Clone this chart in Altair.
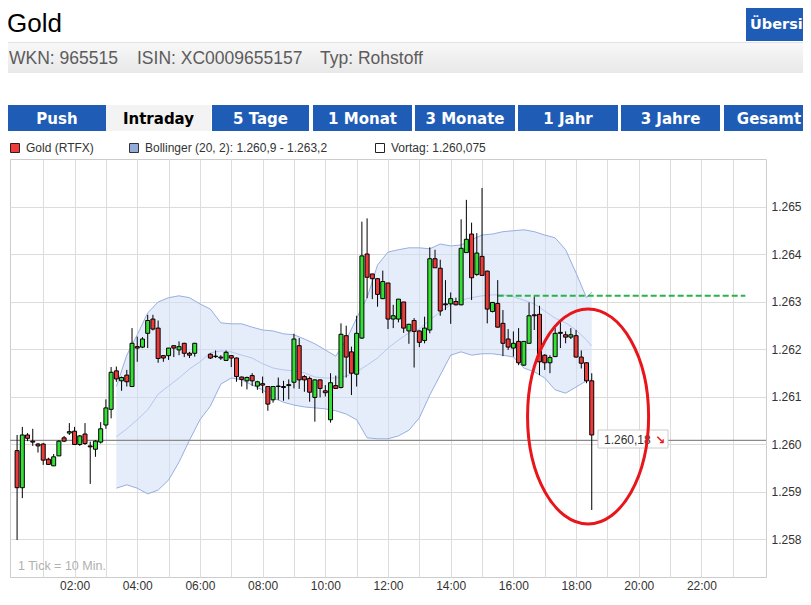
import altair as alt
import pandas as pd

# ---------------- data ----------------
TIMES = ["00:10","00:20","00:30","00:40","00:50","01:00","01:10","01:20","01:30","01:40",
         "01:50","02:00","02:10","02:20","02:30","02:40","02:50","03:00","03:10","03:20",
         "03:30","03:40","03:50","04:00","04:10","04:20","04:30","04:40","04:50","05:00",
         "05:10","05:20","05:30","05:40","05:50",
         "06:20","06:30","06:40","06:50","07:00","07:10","07:20","07:30","07:40","07:50",
         "08:00","08:10","08:20","08:30","08:40","08:50","09:00","09:10","09:20","09:30",
         "09:40","09:50","10:00","10:10","10:20","10:30","10:40","10:50","11:00","11:10",
         "11:20","11:30","11:40","11:50","12:00","12:10","12:20","12:30","12:40","12:50",
         "13:00","13:10","13:20","13:30","13:40","13:50","14:00","14:10","14:20","14:30",
         "14:40","14:50","15:00","15:10","15:20","15:30","15:40","15:50","16:00","16:10",
         "16:20","16:30","16:40","16:50","17:00","17:10","17:20","17:30","17:40","17:50",
         "18:00","18:10","18:20","18:30"]

OPEN = [1.25986, 1.25908, 1.26019, 1.26006, 1.26000, 1.26000, 1.25968, 1.25954, 1.25975, 1.26013,
        1.26023, 1.26027, 1.25999, 1.26021, 1.25996, 1.25989, 1.26004, 1.26040, 1.26073, 1.26154,
        1.26133, 1.26145, 1.26121, 1.26205, 1.26204, 1.26233, 1.26263, 1.26244, 1.26186, 1.26186,
        1.26207, 1.26198, 1.26212, 1.26191, 1.26191,
        1.26189, 1.26185, 1.26183, 1.26176, 1.26186, 1.26181, 1.26141, 1.26133, 1.26144, 1.26122,
        1.26127, 1.26121, 1.26093, 1.26121, 1.26121, 1.26123, 1.26130, 1.26207, 1.26142, 1.26138,
        1.26098, 1.26135, 1.26112, 1.26051, 1.26123, 1.26119, 1.26228, 1.26194, 1.26147, 1.26223,
        1.26400, 1.26358, 1.26348, 1.26306, 1.26339, 1.26263, 1.26263, 1.26299, 1.26238, 1.26260,
        1.26238, 1.26218, 1.26240, 1.26390, 1.26370, 1.26295, 1.26295, 1.26300, 1.26293, 1.26403,
        1.26442, 1.26357, 1.26395, 1.26364, 1.26279, 1.26296, 1.26254, 1.26221, 1.26202, 1.26216,
        1.26166, 1.26212, 1.26272, 1.26273, 1.26187, 1.26171, 1.26184, 1.26235, 1.26230, 1.26225,
        1.26228, 1.26183, 1.26171, 1.26133]

HIGH = [1.26019, 1.26036, 1.26023, 1.26032, 1.26002, 1.26002, 1.25971, 1.25979, 1.26008, 1.26017,
        1.26044, 1.26036, 1.26019, 1.26044, 1.26005, 1.26008, 1.26046, 1.26094, 1.26162, 1.26163,
        1.26142, 1.26156, 1.26244, 1.26226, 1.26225, 1.26272, 1.26272, 1.26260, 1.26187, 1.26202,
        1.26207, 1.26216, 1.26213, 1.26194, 1.26213,
        1.26191, 1.26197, 1.26187, 1.26197, 1.26187, 1.26182, 1.26142, 1.26142, 1.26149, 1.26133,
        1.26142, 1.26122, 1.26122, 1.26140, 1.26133, 1.26136, 1.26232, 1.26223, 1.26145, 1.26142,
        1.26136, 1.26136, 1.26124, 1.26149, 1.26144, 1.26254, 1.26249, 1.26205, 1.26270, 1.26468,
        1.26475, 1.26358, 1.26349, 1.26365, 1.26339, 1.26293, 1.26305, 1.26299, 1.26253, 1.26265,
        1.26239, 1.26268, 1.26414, 1.26409, 1.26388, 1.26345, 1.26319, 1.26308, 1.26473, 1.26514,
        1.26466, 1.26444, 1.26539, 1.26365, 1.26298, 1.26345, 1.26282, 1.26242, 1.26237, 1.26244,
        1.26216, 1.26298, 1.26310, 1.26291, 1.26189, 1.26187, 1.26244, 1.26258, 1.26237, 1.26244,
        1.26240, 1.26197, 1.26172, 1.26149]

LOW = [1.25798, 1.25886, 1.26006, 1.25996, 1.25982, 1.25956, 1.25956, 1.25954, 1.25975, 1.26004,
       1.26019, 1.25998, 1.25996, 1.25998, 1.25916, 1.25973, 1.26001, 1.26032, 1.26054, 1.26131,
       1.26112, 1.26121, 1.26120, 1.26173, 1.26202, 1.26202, 1.26239, 1.26171, 1.26173, 1.26177,
       1.26183, 1.26187, 1.26183, 1.26181, 1.26184,
       1.26179, 1.26181, 1.26177, 1.26175, 1.26162, 1.26131, 1.26121, 1.26115, 1.26122, 1.26114,
       1.26107, 1.26070, 1.26087, 1.26093, 1.26091, 1.26094, 1.26117, 1.26116, 1.26110, 1.26089,
       1.26047, 1.26098, 1.26100, 1.26045, 1.26116, 1.26117, 1.26140, 1.26103, 1.26121, 1.26221,
       1.26307, 1.26305, 1.26289, 1.26305, 1.26242, 1.26244, 1.26256, 1.26234, 1.26211, 1.26161,
       1.26204, 1.26212, 1.26233, 1.26371, 1.26270, 1.26282, 1.26253, 1.26292, 1.26292, 1.26402,
       1.26303, 1.26354, 1.26354, 1.26254, 1.26277, 1.26245, 1.26185, 1.26198, 1.26184, 1.26166,
       1.26164, 1.26212, 1.26240, 1.26145, 1.26156, 1.26149, 1.26183, 1.26202, 1.26212, 1.26221,
       1.26182, 1.26159, 1.26128, 1.25861]

CLOSE = [1.25908, 1.26019, 1.26012, 1.26004, 1.25996, 1.25966, 1.25957, 1.25973, 1.26006, 1.26006,
         1.26026, 1.25999, 1.26017, 1.26001, 1.25994, 1.26006, 1.26032, 1.26076, 1.26151, 1.26137,
         1.26140, 1.26131, 1.26212, 1.26202, 1.26221, 1.26260, 1.26242, 1.26180, 1.26181, 1.26202,
         1.26202, 1.26205, 1.26191, 1.26187, 1.26212,
         1.26181, 1.26184, 1.26181, 1.26193, 1.26181, 1.26142, 1.26136, 1.26140, 1.26133, 1.26131,
         1.26124, 1.26084, 1.26121, 1.26122, 1.26119, 1.26125, 1.26221, 1.26135, 1.26135, 1.26109,
         1.26135, 1.26117, 1.26108, 1.26129, 1.26117, 1.26231, 1.26183, 1.26149, 1.26233, 1.26396,
         1.26351, 1.26348, 1.26315, 1.26342, 1.26263, 1.26270, 1.26305, 1.26244, 1.26252, 1.26237,
         1.26214, 1.26244, 1.26390, 1.26371, 1.26280, 1.26293, 1.26306, 1.26293, 1.26412, 1.26431,
         1.26350, 1.26402, 1.26355, 1.26284, 1.26298, 1.26246, 1.26212, 1.26204, 1.26212, 1.26171,
         1.26216, 1.26270, 1.26270, 1.26173, 1.26171, 1.26182, 1.26233, 1.26233, 1.26225, 1.26230,
         1.26183, 1.26170, 1.26133, 1.26019]

BAND_TIMES = ["03:20","03:40","04:00","04:20","04:40","05:00","05:20","05:40","06:00","06:20",
              "06:40","07:00","07:20","07:40","08:00","08:20","08:40","09:00","09:20","09:40",
              "10:00","10:20","10:40","11:00","11:20","11:40","12:00","12:20","12:40","13:00",
              "13:20","13:40","14:00","14:20","14:40","15:00","15:20","15:40","16:00","16:20",
              "16:40","17:00","17:20","17:40","18:00","18:20","18:30"]
BAND_UPPER = [1.26121, 1.26187, 1.26230, 1.26276, 1.26299, 1.26308, 1.26312, 1.26308, 1.26295, 1.26284,
              1.26255, 1.26253, 1.26253, 1.26246, 1.26240, 1.26238, 1.26232, 1.26230, 1.26221, 1.26211,
              1.26198, 1.26185, 1.26219, 1.26265, 1.26308, 1.26377, 1.26404, 1.26409, 1.26413, 1.26413,
              1.26411, 1.26421, 1.26417, 1.26419, 1.26430, 1.26440, 1.26442, 1.26447, 1.26449, 1.26451,
              1.26447, 1.26440, 1.26434, 1.26409, 1.26360, 1.26308, 1.26320]
BAND_MID = [1.26015, 1.26032, 1.26051, 1.26072, 1.26105, 1.26122, 1.26139, 1.26158, 1.26173, 1.26192,
            1.26196, 1.26194, 1.26187, 1.26181, 1.26169, 1.26160, 1.26156, 1.26154, 1.26150, 1.26141,
            1.26139, 1.26139, 1.26143, 1.26152, 1.26166, 1.26181, 1.26202, 1.26219, 1.26234, 1.26242,
            1.26261, 1.26278, 1.26293, 1.26303, 1.26308, 1.26312, 1.26314, 1.26314, 1.26310, 1.26303,
            1.26295, 1.26280, 1.26265, 1.26255, 1.26240, 1.26219, 1.26206]
BAND_LOWER = [1.25907, 1.25914, 1.25907, 1.25895, 1.25903, 1.25924, 1.25962, 1.26008, 1.26051, 1.26080,
              1.26126, 1.26139, 1.26135, 1.26124, 1.26114, 1.26097, 1.26088, 1.26082, 1.26078, 1.26076,
              1.26074, 1.26070, 1.26063, 1.26051, 1.26013, 1.26011, 1.26011, 1.26017, 1.26029, 1.26055,
              1.26103, 1.26145, 1.26187, 1.26194, 1.26187, 1.26190, 1.26190, 1.26187, 1.26183, 1.26160,
              1.26152, 1.26139, 1.26114, 1.26107, 1.26120, 1.26133, 1.26135]

Y_TICKS = [1.258, 1.259, 1.260, 1.261, 1.262, 1.263, 1.264, 1.265]
X_GRID = ["01:00","02:00","03:00","04:00","05:00","06:00","07:00","08:00","09:00","10:00","11:00","12:00",
          "13:00","14:00","15:00","16:00","17:00","18:00","19:00","20:00","21:00","22:00","23:00"]
X_LABELS = ["02:00","04:00","06:00","08:00","10:00","12:00","14:00","16:00","18:00","20:00","22:00"]

VORTAG = 1.260075
RESIST = 1.26312
RESIST_SPAN = ["15:30", "23:24"]
ELLIPSE_CENTER = ("18:23", 1.26058)
LAST_LABEL = "1.260,18"

TITLE = "Gold"
INFO = ["WKN: 965515", "ISIN: XC0009655157", "Typ: Rohstoff"]
TABS = ["Push", "Intraday", "5 Tage", "1 Monat", "3 Monate", "1 Jahr", "3 Jahre", "Gesamt"]
ACTIVE_TAB = "Intraday"
BUTTON = "Übersicht"
LEGEND = ["Gold (RTFX)", "Bollinger (20, 2): 1.260,9 - 1.263,2", "Vortag: 1.260,075"]
TICK_NOTE = "1 Tick = 10 Min."

# ---------------- layout (pixels) ----------------
PL, PT = 10, 159          # absolute position of the plot area
W, H = 756, 418
EDGE = 803                # right edge of the drawing
FONT = "Liberation Sans"
BLUE = "#1f5cb6"
RED = "#e8151b"


def hm(s):
    h, m = s.split(":")
    return int(h) * 60 + int(m)


def rx(v):
    return v - PL


def ry(v):
    return v - PT


candles = pd.DataFrame({"t": [hm(s) for s in TIMES], "open": OPEN, "high": HIGH,
                        "low": LOW, "close": CLOSE})
band = pd.DataFrame({"t": [hm(s) for s in BAND_TIMES], "upper": BAND_UPPER,
                     "mid": BAND_MID, "lower": BAND_LOWER})

xs = alt.Scale(domain=[6, 1434], nice=False, zero=False)
ys = alt.Scale(domain=[1.2572, 1.2660], nice=False, zero=False)

label_expr = "''"
for lab in reversed(X_LABELS):
    label_expr = f"datum.value == {hm(lab)} ? '{lab}' : ({label_expr})"

x_axis = alt.Axis(values=[hm(s) for s in X_GRID], labelExpr=label_expr, grid=True,
                  gridColor="#dcdcdc", ticks=False, domain=False, title=None,
                  labelFont=FONT, labelFontSize=12, labelColor="#333333",
                  labelPadding=3, labelFlush=False, labelOverlap=False)
y_axis = alt.Axis(values=Y_TICKS, format=".3f", orient="right", grid=True,
                  gridColor="#dcdcdc", ticks=False, domain=False, title=None,
                  labelFont=FONT, labelFontSize=12, labelColor="#333333",
                  labelPadding=5, labelOverlap=False)

X = alt.X("t:Q", scale=xs, axis=x_axis)

layers = []

# Bollinger band
layers.append(alt.Chart(band).mark_area(color="#cfdcf5", opacity=0.55).encode(
    x=X, y=alt.Y("lower:Q", scale=ys, axis=y_axis), y2="upper:Q"))
for col, colr in [("upper", "#98afe2"), ("lower", "#98afe2"), ("mid", "#b5c8ef")]:
    layers.append(alt.Chart(band).mark_line(color=colr, strokeWidth=1).encode(
        x=X, y=alt.Y(f"{col}:Q", scale=ys, axis=y_axis)))

one = pd.DataFrame({"k": [0]})

# previous-day line
layers.append(alt.Chart(pd.DataFrame({"v": [VORTAG]})).mark_rule(
    color="#8a8a8a", strokeWidth=1.2).encode(y=alt.Y("v:Q", scale=ys, axis=y_axis)))

# green dashed resistance line
layers.append(alt.Chart(pd.DataFrame({"t": [hm(RESIST_SPAN[0])], "t2": [hm(RESIST_SPAN[1])],
                                      "v": [RESIST]})).mark_rule(
    color="#29b24a", strokeWidth=2, strokeDash=[6, 3]).encode(
    x=X, x2="t2:Q", y=alt.Y("v:Q", scale=ys, axis=y_axis)))

# candle wicks and bodies
layers.append(alt.Chart(candles).mark_rule(color="#000000", strokeWidth=1).encode(
    x=X, y=alt.Y("low:Q", scale=ys, axis=y_axis), y2="high:Q"))
layers.append(alt.Chart(candles).mark_bar(size=4, stroke="#000000", strokeWidth=1).encode(
    x=X, y=alt.Y("open:Q", scale=ys, axis=y_axis), y2="close:Q",
    fill=alt.condition("datum.close >= datum.open", alt.value("#35e035"), alt.value("#ec3a3a"))))

# last price label
layers.append(alt.Chart(one).mark_rect(fill="white", stroke="#cccccc", strokeWidth=1).encode(
    x=alt.value(rx(598)), x2=alt.value(rx(668)), y=alt.value(ry(430)), y2=alt.value(ry(448))))
layers.append(alt.Chart(one).mark_text(text=LAST_LABEL, font=FONT, fontSize=12, color="#333333",
                                        align="left", baseline="alphabetic").encode(
    x=alt.value(rx(604)), y=alt.value(ry(443.5))))
layers.append(alt.Chart(one).mark_text(text="↘", font="DejaVu Sans", fontSize=12, fontWeight="bold",
                                        color=RED, align="left", baseline="alphabetic").encode(
    x=alt.value(rx(655)), y=alt.value(ry(444))))

# red hand-drawn ellipse
ell_path = ("M 0 -1 C 0.311 -1 0.563 -0.552 0.563 0 C 0.563 0.552 0.311 1 0 1 "
            "C -0.311 1 -0.563 0.552 -0.563 0 C -0.563 -0.552 -0.311 -1 0 -1 Z")
layers.append(alt.Chart(pd.DataFrame({"t": [hm(ELLIPSE_CENTER[0])], "v": [ELLIPSE_CENTER[1]]})).mark_point(
    shape=ell_path, size=215 * 215, filled=False, stroke=RED, strokeWidth=3, opacity=1).encode(
    x=X, y=alt.Y("v:Q", scale=ys, axis=y_axis)))

# tick note
layers.append(alt.Chart(one).mark_text(text=TICK_NOTE, font=FONT, fontSize=12.5, color="#b0b0b0",
                                        align="left", baseline="alphabetic").encode(
    x=alt.value(rx(18)), y=alt.value(ry(570))))

# ---------------- header ----------------
layers.append(alt.Chart(one).mark_text(text=TITLE, font=FONT, fontSize=26, color="#000000",
                                        align="left", baseline="alphabetic").encode(
    x=alt.value(rx(7)), y=alt.value(ry(32))))
layers.append(alt.Chart(one).mark_rect(fill=BLUE).encode(
    x=alt.value(rx(746)), x2=alt.value(rx(EDGE)), y=alt.value(ry(4)), y2=alt.value(ry(41))))
layers.append(alt.Chart(one).mark_text(text=BUTTON, font="DejaVu Sans", fontSize=14.5, fontWeight="bold",
                                        color="white", align="left", baseline="alphabetic",
                                        limit=53, ellipsis="\u200b").encode(
    x=alt.value(rx(750)), y=alt.value(ry(29))))
layers.append(alt.Chart(one).mark_rect(fill="#e2e2e2").encode(
    x=alt.value(rx(8)), x2=alt.value(rx(EDGE)), y=alt.value(ry(42)), y2=alt.value(ry(43))))
layers.append(alt.Chart(one).mark_rect(
    fill={"gradient": "linear", "x1": 0, "x2": 0, "y1": 0, "y2": 1,
          "stops": [{"offset": 0, "color": "#f8f8f8"}, {"offset": 1, "color": "#e8e8e8"}]}).encode(
    x=alt.value(rx(8)), x2=alt.value(rx(EDGE)), y=alt.value(ry(43)), y2=alt.value(ry(73))))
for txt, xpos in zip(INFO, [9, 137, 320]):
    layers.append(alt.Chart(one).mark_text(text=txt, font=FONT, fontSize=17.5, color="#5c5c5c",
                                            align="left", baseline="alphabetic").encode(
        x=alt.value(rx(xpos)), y=alt.value(ry(64))))

TAB_EDGES = [(8, 106), (106, 211), (212, 309), (313, 412), (415, 515), (518, 618), (621, 720), (724, EDGE)]
TAB_TEXT_X = [57, 158.5, 260.5, 362.5, 465, 568, 670.5, 769]
for lab, (a, b), tx in zip(TABS, TAB_EDGES, TAB_TEXT_X):
    active = lab == ACTIVE_TAB
    layers.append(alt.Chart(one).mark_rect(fill="#f3f3f3" if active else BLUE).encode(
        x=alt.value(rx(a)), x2=alt.value(rx(b)), y=alt.value(ry(105)), y2=alt.value(ry(131))))
    layers.append(alt.Chart(one).mark_text(text=lab, font="DejaVu Sans", fontSize=15, fontWeight="bold",
                                            color="#000000" if active else "white",
                                            align="center", baseline="alphabetic").encode(
        x=alt.value(rx(tx)), y=alt.value(ry(124))))

# legend row
LEG_SWATCH = [(10.5, "#f03c3c", "#222222"), (129.5, "#93acdc", "#333333"), (375.5, "#ffffff", "#222222")]
LEG_TEXT_X = [26, 145, 391]
for lab, (sx, fillc, strokec), tx in zip(LEGEND, LEG_SWATCH, LEG_TEXT_X):
    layers.append(alt.Chart(one).mark_rect(fill=fillc, stroke=strokec, strokeWidth=1).encode(
        x=alt.value(rx(sx)), x2=alt.value(rx(sx + 9)), y=alt.value(ry(143.5)), y2=alt.value(ry(152.5))))
    layers.append(alt.Chart(one).mark_text(text=lab, font=FONT, fontSize=12, color="#333333",
                                            align="left", baseline="alphabetic").encode(
        x=alt.value(rx(tx)), y=alt.value(ry(152))))

chart = alt.layer(*layers).properties(
    width=W, height=H,
    autosize=alt.AutoSizeParams(type="none"),
    padding={"left": 2, "top": 151, "right": 37, "bottom": 14},
    background="white",
).configure_view(stroke="#cccccc", strokeWidth=1)

chart.save("out.html", embed_options={"renderer": "svg", "actions": False})
